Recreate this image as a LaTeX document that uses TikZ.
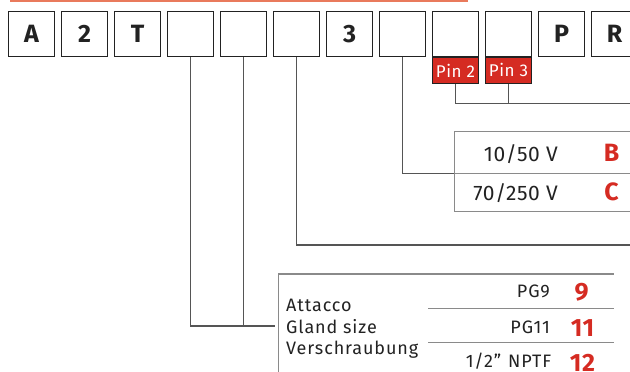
\documentclass[tikz,border=0pt]{standalone}
\usepackage{fontspec}
\setmainfont{Fira Sans}[LetterSpace=3]
\definecolor{codered}{HTML}{D52B22}
\definecolor{rulered}{HTML}{E97A5C}
\definecolor{ink}{HTML}{222222}
\definecolor{wire}{HTML}{555555}
\definecolor{grid}{HTML}{8A8A8A}
\begin{document}
\begin{tikzpicture}[x=1pt,y=-1pt,
  codebox/.style={draw=ink, line width=1.2pt, fill=white, minimum width=46pt,
    minimum height=45pt, inner sep=0pt, anchor=north west,
    font=\fontsize{25}{25}\selectfont\bfseries, text=ink},
  boxshade/.style={fill=black!35},
  pinbox/.style={draw=ink, line width=1pt, fill=codered, minimum width=46pt,
    minimum height=26pt, inner sep=0pt, anchor=north west, text=white,
    font=\fontsize{17}{17}\selectfont},
  wireline/.style={draw=wire, line width=1.3pt},
  gridline/.style={draw=grid, line width=1.1pt},
  label/.style={inner sep=0pt, text=ink, font=\fontsize{21}{21}\selectfont},
  small/.style={inner sep=0pt, text=ink,
    font=\fontsize{18}{18}\selectfont\addfontfeatures{LetterSpace=5}},
  code/.style={inner sep=0pt, text=codered, font=\fontsize{25}{25}\selectfont\bfseries},
]
\useasboundingbox (0,0) rectangle (630,372);
\clip (0,0) rectangle (630,372);

% top rule
\draw[rulered, line width=1.6pt] (10,0.8) -- (468,0.8);

% code boxes with a faint drop shade
\foreach \i/\t in {0/A,1/2,2/T,3/{},4/{},5/{},6/3,7/{},8/{},9/{},10/P,11/R}{
  \fill[boxshade] ({8+53*\i+1.3},12) rectangle ({8+53*\i+47.3},57);
  \node[codebox] (b\i) at ({8+53*\i},10.7) {\t};
}

% pin labels under boxes 8 and 9
\node[pinbox] (p2) at (b8.south west) {Pin 2};
\node[pinbox] (p3) at (b9.south west) {Pin 3};

% connector end points
\coordinate (pinend) at (632,103.3);
\coordinate (voltend) at (454.3,173.7);
\coordinate (mountend) at (632,245);
\coordinate (glandend) at (275,326);

% connectors
\draw[wireline] (p2.south) |- (pinend);
\draw[wireline] (p3.south) -- (p3.south |- pinend);
\draw[wireline] (b7.south) |- (voltend);
\draw[wireline] (b5.south) |- (mountend);
\draw[wireline] (b3.south) |- (glandend);
\draw[wireline] (b4.south) -- (b4.south |- glandend);

% voltage table
\draw[gridline] (632,131.7) -- (454.3,131.7) -- (454.3,211.7) -- (632,211.7);
\draw[gridline] (454.3,173.7) -- (632,173.7);
\node[label, anchor=base east] (v1) at (558,161.7) {10/50 V};
\node[label, anchor=base east] (v2) at (558,200.7) {70/250 V};
\node[code, anchor=base] (cb) at (611.5,161.7) {B};
\node[code, anchor=base] (cc) at (611.5,200.7) {C};

% gland table
\draw[gridline] (278.3,380) -- (278.3,274) -- (614,274);
\draw[gridline] (428,308.3) -- (614,308.3);
\draw[gridline] (428,342.7) -- (614,342.7);
\node[small, anchor=base west] (t1) at (286,311.7) {Attacco};
\node[small, anchor=base west] (t2) at (286,333.5) {Gland size};
\node[small, anchor=base west] (t3) at (286,354) {Verschraubung};
\node[small, anchor=base east] (g1) at (550,297.3) {PG9};
\node[small, anchor=base east] (g2) at (550,333.3) {PG11};
\node[small, anchor=base east] (g3) at (551.5,367.5) {1/2”\hspace{7pt}NPTF};
\node[code, anchor=base] (c1) at (581.5,300.7) {9};
\node[code, anchor=base] (c2) at (582.5,336.7) {11};
\node[code, anchor=base] (c3) at (582.5,371) {12};
\end{tikzpicture}
\end{document}
